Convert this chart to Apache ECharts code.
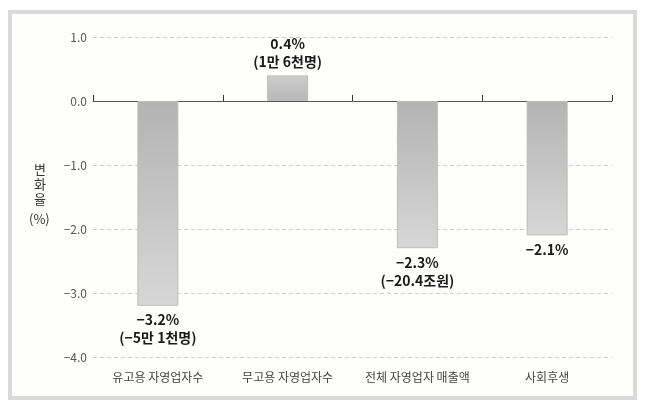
<!DOCTYPE html>
<html>
<head>
<meta charset="utf-8">
<script src="https://cdn.jsdelivr.net/npm/echarts@6/dist/echarts.min.js"></script>
<style>
html,body{margin:0;padding:0;background:#fff;}
#c{width:646px;height:410px;}
</style>
</head>
<body>
<div id="c"></div>
<script>
const categories = ['유고용 자영업자수', '무고용 자영업자수', '전체 자영업자 매출액', '사회후생'];
const values = [-3.2, 0.4, -2.3, -2.1];
const valueLabels = ['−3.2%\n(−5만 1천명)', '0.4%\n(1만 6천명)', '−2.3%\n(−20.4조원)', '−2.1%'];
const yTicks = [-4, -3, -2, -1, 0, 1];
const yAxisTitle = ['변', '화', '율', '(%)'];

const FONT = '"Noto Sans CJK KR", "Noto Sans", sans-serif';

const chart = echarts.init(document.getElementById('c'), null, {renderer: 'canvas'});

function grad(v) {
  const dark = '#b3b3b3', light = '#d7d7d7';
  return new echarts.graphic.LinearGradient(0, 0, 0, 1, v < 0
    ? [{offset: 0, color: dark}, {offset: 1, color: light}]
    : [{offset: 0, color: '#cdcdcd'}, {offset: 1, color: '#b8b8b8'}]);
}

const data = values.map((v, i) => ({
  value: v,
  itemStyle: {color: grad(v), borderColor: '#bdbdbd', borderWidth: 1},
  label: {
    show: true,
    position: v >= 0 ? 'top' : 'bottom',
    distance: 5,
    formatter: valueLabels[i],
    color: '#1a1a1a',
    fontSize: 14,
    fontWeight: 'bold',
    lineHeight: 18,
    fontFamily: FONT
  }
}));

const titleGraphics = [
  {type: 'text', left: 34, top: 163, style: {text: yAxisTitle[0], fill: '#333', font: '13px ' + FONT}},
  {type: 'text', left: 34, top: 178, style: {text: yAxisTitle[1], fill: '#333', font: '13px ' + FONT}},
  {type: 'text', left: 34, top: 193, style: {text: yAxisTitle[2], fill: '#333', font: '13px ' + FONT}},
  {type: 'text', left: 29, top: 213, style: {text: yAxisTitle[3], fill: '#333', font: '13px ' + FONT}}
];

chart.setOption({
  animation: false,
  backgroundColor: '#ffffff',
  graphic: [
    {type: 'rect', z: -10, shape: {x: 10, y: 12, width: 625, height: 386},
     style: {fill: '#fefefd', stroke: '#d9d9d9', lineWidth: 4}}
  ].concat(titleGraphics),
  grid: {left: 93, right: 34, top: 37, bottom: 53},
  xAxis: [{
    type: 'category',
    data: categories,
    axisLine: {onZero: true, lineStyle: {color: '#555', width: 1}},
    axisTick: {show: true, inside: true, length: 6, interval: 0, lineStyle: {color: '#333'}},
    axisLabel: {show: false, interval: 0}
  }, {
    type: 'category',
    data: categories,
    position: 'bottom',
    axisLine: {show: false, onZero: false},
    axisTick: {show: false},
    axisLabel: {color: '#444', fontSize: 12, margin: 14, interval: 0, fontFamily: FONT}
  }],
  yAxis: {
    type: 'value',
    min: yTicks[0],
    max: yTicks[yTicks.length - 1],
    interval: 1,
    axisLine: {show: false},
    axisTick: {show: false},
    axisLabel: {color: '#555', fontSize: 12, margin: 6, fontFamily: FONT,
      formatter: v => v.toFixed(1).replace('-', '−')},
    splitLine: {lineStyle: {color: '#cfcfcf', type: [4, 3]}}
  },
  series: [{
    type: 'bar',
    xAxisIndex: 0,
    barWidth: 41,
    data: data
  }]
});
</script>
</body>
</html>
